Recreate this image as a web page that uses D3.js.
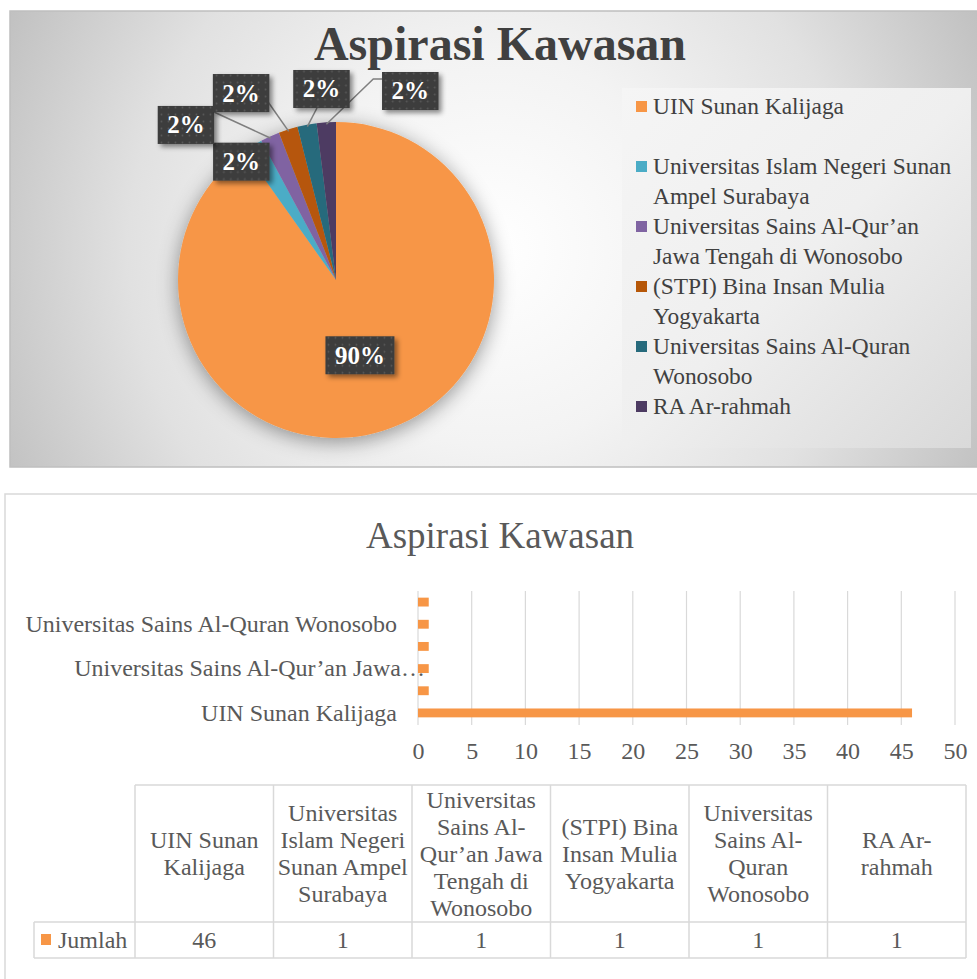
<!DOCTYPE html>
<html lang="id">
    <head>
        <meta charset="utf-8">
        <title>Aspirasi Kawasan</title>
        <script type="text/javascript" src="https://cdn.jsdelivr.net/npm/d3@7/dist/d3.min.js"></script>
        <style>
        body { margin: 0; background: #ffffff; }
        svg { display: block; }
        text { font-family: "Liberation Serif", "Times New Roman", serif; }
        </style>
    </head>
    <body>
        <script type="text/javascript">
            // data
            var categories = [
                "UIN Sunan Kalijaga",
                "Universitas Islam Negeri Sunan Ampel Surabaya",
                "Universitas Sains Al-Qur\u2019an Jawa Tengah di Wonosobo",
                "(STPI) Bina Insan Mulia Yogyakarta",
                "Universitas Sains Al-Quran Wonosobo",
                "RA Ar-rahmah"
            ];
            var jumlah = [46, 1, 1, 1, 1, 1];
            var seriesName = "Jumlah";
            var chartTitle = "Aspirasi Kawasan";
            var xTicks = [0, 5, 10, 15, 20, 25, 30, 35, 40, 45, 50];

            var sliceColors = ["#f79646", "#4bacc6", "#8064a2", "#b65708", "#276a7c", "#4d3b62"];
            var barColor = "#f79646";

            // label placement for the pie (offset from slice rim), leader anchor relative to box centre
            var labelOffset = [null, [-11.5, 16], [-84, -11.5], [-47, -36.4], [14.5, -35.7], [84, -31.3]];
            var leaderAnchor = [null, null, [28, -13], [27, 9], [-4.5, 19], [-28, -12]];
            var leaderElbow = [0, 0, 0, 0, 0, 9];

            var w = 977;
            var h = 979;
            var fs = 24;   // body text size in the lower chart

            var svg = d3.select("body")
                        .append("svg")
                        .attr("width", w)
                        .attr("height", h);

            var defs = svg.append("defs");

            var bg = defs.append("radialGradient")
                         .attr("id", "bgGrad")
                         .attr("gradientUnits", "userSpaceOnUse")
                         .attr("cx", 493).attr("cy", 250).attr("r", 560);
            [[0, "#ffffff"], [0.35, "#f3f3f3"], [0.65, "#e1e1e1"], [1, "#bdbdbd"]].forEach(function(s) {
                bg.append("stop").attr("offset", s[0]).attr("stop-color", s[1]);
            });

            var lg = defs.append("linearGradient")
                         .attr("id", "legGrad")
                         .attr("x1", 0).attr("y1", 0).attr("x2", 1).attr("y2", 1);
            [[0, "#f5f5f5"], [0.5, "#efefef"], [1, "#d9d9d9"]].forEach(function(s) {
                lg.append("stop").attr("offset", s[0]).attr("stop-color", s[1]);
            });

            var dots = defs.append("pattern")
                           .attr("id", "dots")
                           .attr("patternUnits", "userSpaceOnUse")
                           .attr("width", 7).attr("height", 7);
            dots.append("rect").attr("width", 7).attr("height", 7).attr("fill", "#3d3d3d");
            dots.append("circle").attr("cx", 3.5).attr("cy", 3.5).attr("r", 0.9).attr("fill", "#595959");

            var pieShadow = defs.append("filter")
                                .attr("id", "pieShadow")
                                .attr("x", "-30%").attr("y", "-30%")
                                .attr("width", "160%").attr("height", "160%");
            pieShadow.append("feDropShadow")
                     .attr("dx", 0).attr("dy", 4)
                     .attr("stdDeviation", 10)
                     .attr("flood-color", "#000")
                     .attr("flood-opacity", 0.4);

            var boxShadow = defs.append("filter")
                                .attr("id", "boxShadow")
                                .attr("x", "-30%").attr("y", "-30%")
                                .attr("width", "160%").attr("height", "160%");
            boxShadow.append("feDropShadow")
                     .attr("dx", 3).attr("dy", 3)
                     .attr("stdDeviation", 2.5)
                     .attr("flood-color", "#000")
                     .attr("flood-opacity", 0.45);

            // word wrap that also breaks after hyphens
            function wrapLines(text, maxWidth, measure) {
                var parts = text.split(" ");
                var tokens = [];
                parts.forEach(function(p, i) {
                    var pieces = p.split(/(?<=-)/);
                    pieces.forEach(function(q, j) {
                        tokens.push({ t: q, space: (j === 0 && i > 0) });
                    });
                });
                var lines = [];
                var cur = "";
                tokens.forEach(function(tk) {
                    var cand = cur === "" ? tk.t : cur + (tk.space ? " " : "") + tk.t;
                    if (cur !== "" && measure(cand) > maxWidth) {
                        lines.push(cur);
                        cur = tk.t;
                    } else {
                        cur = cand;
                    }
                });
                if (cur !== "") lines.push(cur);
                return lines;
            }

            function measurer(size, weight) {
                var t = svg.append("text")
                           .attr("font-size", size)
                           .attr("font-weight", weight || "normal")
                           .attr("visibility", "hidden");
                return {
                    fn: function(s) { t.text(s); return t.node().getComputedTextLength(); },
                    done: function() { t.remove(); }
                };
            }

            /* ---------------- pie chart ---------------- */
            var topG = svg.append("g");

            topG.append("rect")
               .attr("x", 10).attr("y", 11)
               .attr("width", 980).attr("height", 456)
               .attr("fill", "url(#bgGrad)")
               .attr("stroke", "#bfbfbf")
               .attr("stroke-width", 1.5);

            topG.append("text")
               .attr("x", 500).attr("y", 60)
               .attr("text-anchor", "middle")
               .attr("font-size", 48)
               .attr("font-weight", "bold")
               .attr("fill", "#404040")
               .text(chartTitle);

            var cx = 336, cy = 280, r = 158;
            var total = d3.sum(jumlah);
            var pct = d3.format(".0%");

            var pie = d3.pie().sort(null).value(function(d) { return d; });
            var arcs = pie(jumlah);
            var arc = d3.arc().innerRadius(0).outerRadius(r);

            var pieG = topG.append("g")
                          .attr("transform", "translate(" + cx + "," + cy + ")");

            pieG.append("g")
                .attr("filter", "url(#pieShadow)")
                .selectAll("path")
                .data(arcs)
                .enter()
                .append("path")
                .attr("d", arc)
                .attr("fill", function(d, i) { return sliceColors[i]; });

            function rimPoint(d, rad) {
                var a = (d.startAngle + d.endAngle) / 2;
                return [Math.sin(a) * rad, -Math.cos(a) * rad];
            }

            var mLab = measurer(25, "bold");
            var labels = arcs.map(function(d, i) {
                var c;
                if (labelOffset[i] === null) {
                    c = arc.centroid(d);
                } else {
                    var p = rimPoint(d, r);
                    c = [p[0] + labelOffset[i][0], p[1] + labelOffset[i][1]];
                }
                var txt = pct(d.value / total);
                var bw = mLab.fn(txt) + 19;
                return { d: d, i: i, c: c, txt: txt, bw: bw, bh: 38 };
            });
            mLab.done();

            // leader lines
            labels.forEach(function(l) {
                if (leaderAnchor[l.i] === null) return;
                var tgt = rimPoint(l.d, r - 2);
                var st = [l.c[0] + leaderAnchor[l.i][0], l.c[1] + leaderAnchor[l.i][1]];
                var pts = [st];
                if (leaderElbow[l.i] > 0) pts.push([st[0] - leaderElbow[l.i], st[1]]);
                pts.push(tgt);
                pieG.append("path")
                    .attr("d", d3.line()(pts))
                    .attr("fill", "none")
                    .attr("stroke", "#7f7f7f")
                    .attr("stroke-width", 1.5);
            });

            var lab = pieG.selectAll("g.lab")
                          .data(labels)
                          .enter()
                          .append("g")
                          .attr("class", "lab")
                          .attr("transform", function(l) { return "translate(" + l.c[0] + "," + l.c[1] + ")"; });

            lab.append("rect")
               .attr("x", function(l) { return -l.bw / 2; })
               .attr("y", function(l) { return -l.bh / 2; })
               .attr("width", function(l) { return l.bw; })
               .attr("height", function(l) { return l.bh; })
               .attr("fill", "url(#dots)")
               .attr("filter", "url(#boxShadow)");

            lab.append("text")
               .attr("text-anchor", "middle")
               .attr("y", 8.5)
               .attr("font-size", 25)
               .attr("font-weight", "bold")
               .attr("fill", "#ffffff")
               .text(function(l) { return l.txt; });

            // legend
            topG.append("rect")
               .attr("x", 622).attr("y", 88)
               .attr("width", 349).attr("height", 360)
               .attr("fill", "url(#legGrad)");

            var mLeg = measurer(23.4);
            var legend = topG.selectAll("g.leg")
                            .data(categories)
                            .enter()
                            .append("g")
                            .attr("class", "leg")
                            .attr("transform", function(d, i) { return "translate(636," + (114 + i * 60) + ")"; });

            legend.append("rect")
                  .attr("x", 0).attr("y", -13)
                  .attr("width", 11).attr("height", 11)
                  .attr("fill", function(d, i) { return sliceColors[i]; });

            legend.each(function(d) {
                var lines = wrapLines(d, 312, mLeg.fn);
                var t = d3.select(this).append("text")
                          .attr("font-size", 23.4)
                          .attr("fill", "#404040");
                lines.forEach(function(line, k) {
                    t.append("tspan").attr("x", 17).attr("y", k * 29.5).text(line);
                });
            });
            mLeg.done();

            /* ---------------- bar chart + data table ---------------- */
            var bot = svg.append("g");

            bot.append("rect")
               .attr("x", 5).attr("y", 494)
               .attr("width", 985).attr("height", 500)
               .attr("fill", "#ffffff")
               .attr("stroke", "#d9d9d9")
               .attr("stroke-width", 1.5);

            bot.append("text")
               .attr("x", 500).attr("y", 548)
               .attr("text-anchor", "middle")
               .attr("font-size", 37)
               .attr("fill", "#595959")
               .text(chartTitle);

            var xScale = d3.scaleLinear()
                           .domain([0, 50])
                           .range([418, 955]);

            var yScale = d3.scaleBand()
                           .domain(categories)
                           .range([724, 591])
                           .paddingInner(0.6)
                           .paddingOuter(0.3);

            bot.append("g")
               .selectAll("line")
               .data(xTicks)
               .enter()
               .append("line")
               .attr("x1", function(d) { return xScale(d); })
               .attr("x2", function(d) { return xScale(d); })
               .attr("y1", 591)
               .attr("y2", 725)
               .attr("stroke", "#d9d9d9")
               .attr("stroke-width", 1.2);

            bot.append("g")
               .selectAll("rect")
               .data(jumlah)
               .enter()
               .append("rect")
               .attr("x", xScale(0))
               .attr("y", function(d, i) { return yScale(categories[i]); })
               .attr("width", function(d) { return xScale(d) - xScale(0); })
               .attr("height", yScale.bandwidth())
               .attr("fill", barColor);

            var xAxis = d3.axisBottom(xScale)
                          .tickValues(xTicks)
                          .tickSize(0)
                          .tickPadding(0);

            var xg = bot.append("g")
                        .attr("transform", "translate(0,742)")
                        .call(xAxis);
            xg.select(".domain").remove();
            xg.selectAll("text")
              .attr("font-size", fs)
              .attr("fill", "#595959")
              .attr("dy", "0.71em");

            // category labels: every other one, truncated if too long
            var mAx = measurer(fs);
            var yAxis = d3.axisLeft(yScale)
                          .tickSize(0)
                          .tickPadding(0)
                          .tickFormat(function(d, i) { return i % 2 === 0 ? d : ""; });

            var yg = bot.append("g")
                        .attr("transform", "translate(397,0)")
                        .call(yAxis);
            yg.select(".domain").remove();
            yg.selectAll("text")
              .attr("font-size", fs)
              .attr("fill", "#595959")
              .each(function() {
                  var s = d3.select(this).text();
                  if (s === "" || mAx.fn(s) <= 380) return;
                  var words = s.split(" ");
                  while (words.length > 1 && mAx.fn(words.join(" ")) > 345) words.pop();
                  var cut = words.join(" ");
                  var el = d3.select(this);
                  el.text(cut)
                    .attr("text-anchor", "start")
                    .attr("x", -mAx.fn(cut) + 4);
                  el.append("tspan").text("\u2026");
              });
            mAx.done();

            // data table
            var tTop = 785, tMid = 922, tBot = 958;
            var colX = d3.scaleBand()
                         .domain(categories)
                         .range([135, 966]);

            var tbl = bot.append("g")
                         .attr("stroke", "#d9d9d9")
                         .attr("stroke-width", 1.5);
            tbl.append("line").attr("x1", 135).attr("x2", 966).attr("y1", tTop).attr("y2", tTop);
            tbl.append("line").attr("x1", 34).attr("x2", 966).attr("y1", tMid).attr("y2", tMid);
            tbl.append("line").attr("x1", 34).attr("x2", 966).attr("y1", tBot).attr("y2", tBot);
            tbl.append("line").attr("x1", 34).attr("x2", 34).attr("y1", tMid).attr("y2", tBot);
            tbl.selectAll("line.col")
               .data(categories.concat(["end"]))
               .enter()
               .append("line")
               .attr("class", "col")
               .attr("x1", function(d, i) { return 135 + i * colX.bandwidth(); })
               .attr("x2", function(d, i) { return 135 + i * colX.bandwidth(); })
               .attr("y1", tTop)
               .attr("y2", tBot);

            var mTbl = measurer(fs);
            bot.selectAll("text.head")
               .data(categories)
               .enter()
               .append("text")
               .attr("class", "head")
               .attr("text-anchor", "middle")
               .attr("font-size", fs)
               .attr("fill", "#595959")
               .each(function(d) {
                   var lines = wrapLines(d, colX.bandwidth() - 4, mTbl.fn);
                   var midY = (tTop + tMid) / 2;
                   var t = d3.select(this);
                   lines.forEach(function(line, k) {
                       t.append("tspan")
                        .attr("x", colX(d) + colX.bandwidth() / 2)
                        .attr("y", midY + (k - (lines.length - 1) / 2) * 27 + 8)
                        .text(line);
                   });
               });
            mTbl.done();

            bot.selectAll("text.val")
               .data(jumlah)
               .enter()
               .append("text")
               .attr("class", "val")
               .attr("text-anchor", "middle")
               .attr("x", function(d, i) { return colX(categories[i]) + colX.bandwidth() / 2; })
               .attr("y", (tMid + tBot) / 2 + 8)
               .attr("font-size", fs)
               .attr("fill", "#595959")
               .text(function(d) { return d; });

            bot.append("rect")
               .attr("x", 41).attr("y", 934)
               .attr("width", 10).attr("height", 11)
               .attr("fill", barColor);

            bot.append("text")
               .attr("x", 58)
               .attr("y", (tMid + tBot) / 2 + 8)
               .attr("font-size", fs)
               .attr("fill", "#595959")
               .text(seriesName);

        </script>
    </body>
</html>
